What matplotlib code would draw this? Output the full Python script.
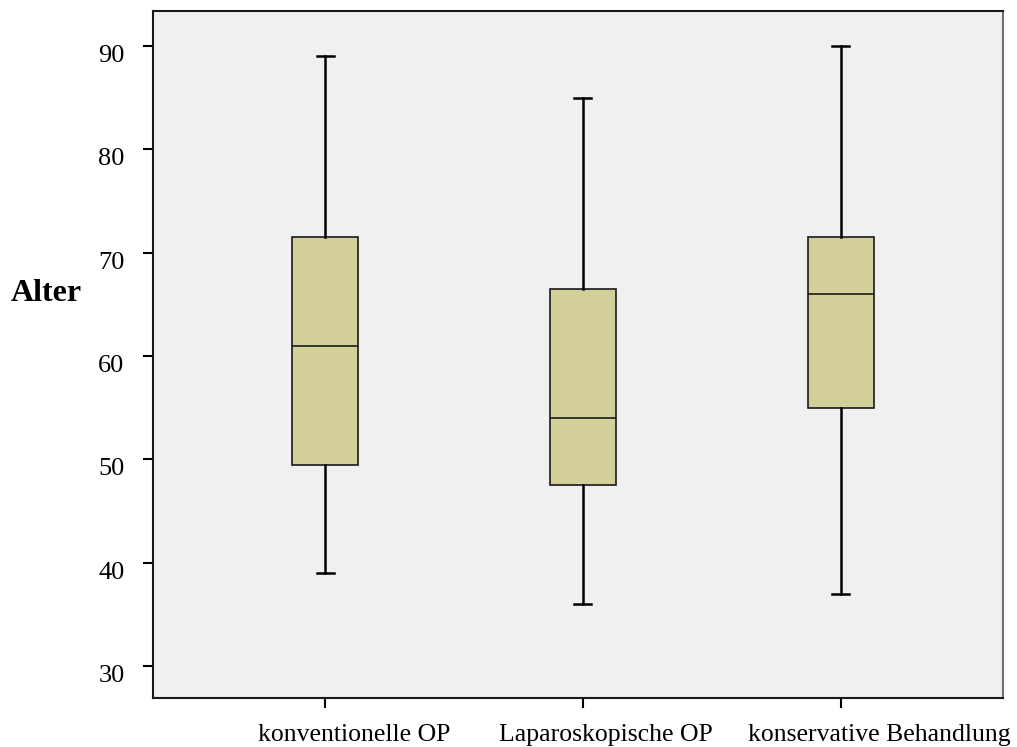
import matplotlib
matplotlib.use("Agg")
import matplotlib.pyplot as plt
from matplotlib.transforms import ScaledTranslation

categories = ["konventionelle OP", "Laparoskopische OP", "konservative Behandlung"]
whislo = [39, 36, 37]
q1 = [49.5, 47.5, 55]
med = [61, 54, 66]
q3 = [71.5, 66.5, 71.5]
whishi = [89, 85, 90]
yticks = [30, 40, 50, 60, 70, 80, 90]

plt.rcParams['font.family'] = ['Liberation Serif', 'DejaVu Serif']

fig = plt.figure(figsize=(10.17, 7.47), dpi=100)
ax = fig.add_axes([0.1504, 0.0656, 0.8358, 0.9197])
ax.set_facecolor('#f0f0f0')

stats = []
for i, c in enumerate(categories):
    stats.append(dict(label=c, whislo=whislo[i], q1=q1[i], med=med[i], q3=q3[i], whishi=whishi[i], fliers=[]))

ax.bxp(stats, positions=[1, 2, 3], widths=0.256, patch_artist=True, showfliers=False,
       capwidths=0.066,
       boxprops=dict(facecolor='#d3cf98', edgecolor='#1a1a1a', linewidth=1.2),
       medianprops=dict(color='#1a1a1a', linewidth=1.2),
       whiskerprops=dict(color='black', linewidth=1.8),
       capprops=dict(color='black', linewidth=1.8))

ax.set_xlim(0.332, 3.63)
ax.set_ylim(26.9, 93.4)
ax.set_yticks(yticks)
ax.set_yticklabels([str(t) for t in yticks])
ax.tick_params(axis='both', direction='out', length=7, width=1.5, colors='black')
ax.tick_params(axis='y', pad=13.5, labelsize=19)
ax.tick_params(axis='x', pad=12, labelsize=18.5)
for s in ['left', 'bottom', 'top']:
    ax.spines[s].set_linewidth(1.5)
    ax.spines[s].set_color('#1a1a1a')
ax.spines['right'].set_linewidth(1.5)
ax.spines['right'].set_color('#707070')

# y tick labels sit slightly below their ticks in the reference
for lab in ax.get_yticklabels():
    lab.set_transform(lab.get_transform() + ScaledTranslation(0, -0.075, fig.dpi_scale_trans))
# x tick labels are shifted right of their ticks in the reference
x_shifts = [0.29, 0.23, 0.39]
for lab, dx in zip(ax.get_xticklabels(), x_shifts):
    lab.set_transform(lab.get_transform() + ScaledTranslation(dx, 0, fig.dpi_scale_trans))

ax.set_ylabel('Alter', rotation=0, fontsize=23, fontweight='bold', ha='center', va='center')
ax.yaxis.set_label_coords(-0.126, 0.5895)

fig.savefig('out.png', dpi=100)
